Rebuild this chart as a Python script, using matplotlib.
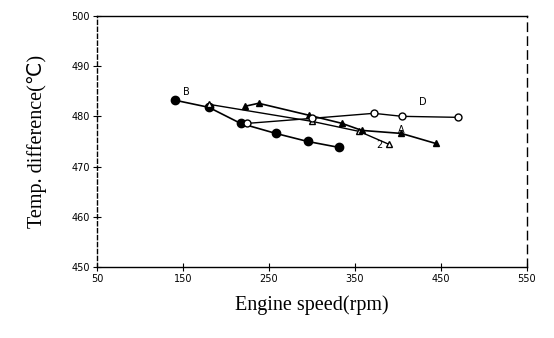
import matplotlib
matplotlib.use('Agg')
import matplotlib.pyplot as plt

# 读图估计的数据
speed_b = [141, 180, 217, 258, 295, 332]
temp_b = [483.2, 481.8, 478.6, 476.6, 475.0, 473.8]

speed_ot = [180, 300, 355, 390]
temp_ot = [482.4, 479.0, 477.0, 474.4]

speed_ft = [222, 238, 297, 335, 358, 404, 444]
temp_ft = [482.0, 482.6, 480.2, 478.6, 477.2, 476.6, 474.6]

speed_oc = [225, 300, 372, 405, 470]
temp_oc = [478.6, 479.6, 480.6, 480.0, 479.8]

x_ticks = [50, 150, 250, 350, 450, 550]
y_ticks = [450, 460, 470, 480, 490, 500]

fig = plt.figure(figsize=(5.54, 3.38), dpi=100)
ax = fig.add_axes([0.175, 0.21, 0.776, 0.743])

ax.plot(speed_b, temp_b, '-o', color='black', ms=6, lw=1.2)
ax.plot(speed_ot, temp_ot, '-^', color='black', mfc='white', ms=5, lw=1.0)
ax.plot(speed_ft, temp_ft, '-^', color='black', ms=5, lw=1.2)
ax.plot(speed_oc, temp_oc, '-o', color='black', mfc='white', ms=5, lw=1.0)

# 曲线标记字母
ax.text(150, 484.2, 'B', fontsize=7, family='DejaVu Sans')
ax.text(425, 482.3, 'D', fontsize=7, family='DejaVu Sans')
ax.text(400, 476.6, 'A', fontsize=7, family='DejaVu Sans')
ax.text(375, 473.6, '2', fontsize=7, family='DejaVu Sans')

ax.set_xlim(50, 550)
ax.set_ylim(450, 500)
ax.set_xticks(x_ticks)
ax.set_yticks(y_ticks)
ax.tick_params(direction='inout', length=6, width=0.8, labelsize=7, pad=2)

ax.spines['left'].set_linestyle((0, (3, 2)))
ax.spines['right'].set_linestyle((0, (6, 4)))
for s in ax.spines.values():
    s.set_linewidth(1.0)

ax.set_xlabel('Engine speed(rpm)', family='Liberation Serif', fontsize=14.5, labelpad=8)
ax.set_ylabel('Temp. difference(℃)', family=['Liberation Serif', 'DejaVu Sans'], fontsize=14.5, labelpad=18)

fig.savefig('out.png', dpi=100)
